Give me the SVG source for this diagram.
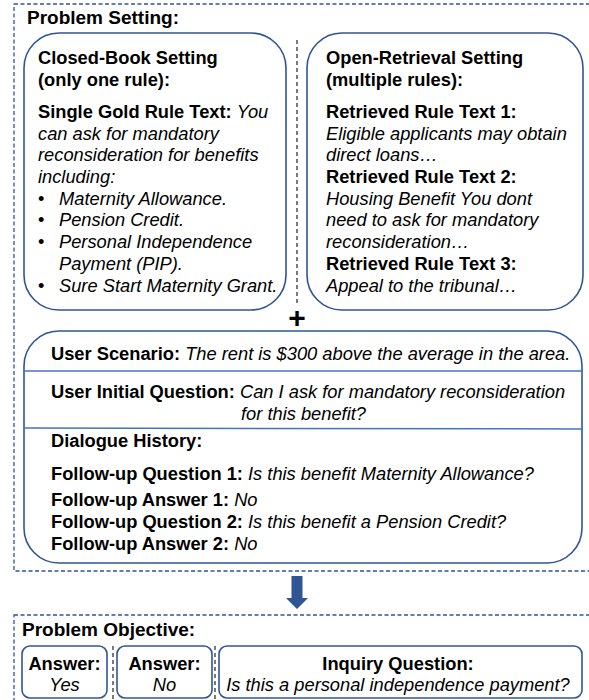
<svg xmlns="http://www.w3.org/2000/svg" width="589" height="700" viewBox="0 0 589 700">
<style>
text{font-family:"Liberation Sans",Arial,sans-serif;font-size:18.3px;fill:#000}
.b{font-weight:bold}
.i{font-style:italic}
.t{font-weight:bold;font-size:19px}
.outer{fill:none;stroke:#2F5597;stroke-width:1.3;stroke-dasharray:4 2.5}
.box{fill:#fff;stroke:#2F5597;stroke-width:1.6}
.div{stroke:#4472C4;stroke-width:1.5}
.sep{stroke:#222;stroke-width:1.2;stroke-dasharray:4 3}
.mid{text-anchor:middle}
</style>
<rect id="setting-frame" class="outer" x="14" y="4" width="600" height="567"/>
<text class="t" x="27" y="24">Problem Setting:</text>

<g id="closed-book">
<rect class="box" x="24" y="33" width="262" height="277" rx="35"/>
<text class="b" x="38" y="64">Closed-Book Setting</text>
<text class="b" x="38" y="86">(only one rule):</text>
<text x="38" y="118"><tspan class="b">Single Gold Rule Text: </tspan><tspan class="i">You</tspan></text>
<text class="i" x="38" y="140">can ask for mandatory</text>
<text class="i" x="38" y="161">reconsideration for benefits</text>
<text class="i" x="38" y="183">including:</text>
<text x="38" y="205">•</text><text class="i" x="59" y="205">Maternity Allowance.</text>
<text x="38" y="226">•</text><text class="i" x="59" y="226">Pension Credit.</text>
<text x="38" y="248">•</text><text class="i" x="59" y="248">Personal Independence</text>
<text class="i" x="59" y="270">Payment (PIP).</text>
<text x="38" y="292">•</text><text class="i" x="59" y="292">Sure Start Maternity Grant.</text>
</g>

<g id="open-retrieval">
<rect class="box" x="307" y="33" width="276" height="277" rx="35"/>
<text class="b" x="326" y="64">Open-Retrieval Setting</text>
<text class="b" x="326" y="86">(multiple rules):</text>
<text class="b" x="326" y="118">Retrieved Rule Text 1:</text>
<text class="i" x="326" y="140">Eligible applicants may obtain</text>
<text class="i" x="326" y="161">direct loans…</text>
<text class="b" x="326" y="183">Retrieved Rule Text 2:</text>
<text class="i" x="326" y="205">Housing Benefit You dont</text>
<text class="i" x="326" y="226">need to ask for mandatory</text>
<text class="i" x="326" y="248">reconsideration…</text>
<text class="b" x="326" y="270">Retrieved Rule Text 3:</text>
<text class="i" x="326" y="292">Appeal to the tribunal…</text>
</g>

<g id="user-input">
<rect class="box" x="24" y="331" width="558" height="232" rx="35"/>
<line class="div" x1="24" y1="371" x2="582" y2="371"/>
<line class="div" x1="24" y1="428" x2="582" y2="429"/>
<text x="51" y="360"><tspan class="b">User Scenario: </tspan><tspan class="i">The rent is $300 above the average in the area.</tspan></text>
<text x="51" y="398"><tspan class="b">User Initial Question: </tspan><tspan class="i">Can I ask for mandatory reconsideration</tspan></text>
<text class="i" x="241" y="420">for this benefit?</text>
<text class="b" x="51" y="447">Dialogue History:</text>
<text x="51" y="480"><tspan class="b">Follow-up Question 1: </tspan><tspan class="i">Is this benefit Maternity Allowance?</tspan></text>
<text x="51" y="506"><tspan class="b">Follow-up Answer 1: </tspan><tspan class="i">No</tspan></text>
<text x="51" y="528"><tspan class="b">Follow-up Question 2: </tspan><tspan class="i">Is this benefit a Pension Credit?</tspan></text>
<text x="51" y="550"><tspan class="b">Follow-up Answer 2: </tspan><tspan class="i">No</tspan></text>
</g>

<g id="connectors">
<line class="sep" x1="297" y1="40" x2="297" y2="304"/>
<text class="b mid" x="297" y="328" style="font-size:30px">+</text>
<polygon points="291.5,576 302.5,576 302.5,598 308,598 297,609 286,598 291.5,598" fill="#2F5597"/>
<line class="sep" x1="113" y1="646" x2="113" y2="700"/>
<line class="sep" x1="215" y1="646" x2="215" y2="700"/>
</g>

<rect id="objective-frame" class="outer" x="14" y="615" width="600" height="100"/>
<text class="t" x="22" y="636">Problem Objective:</text>

<g id="answer-yes">
<rect class="box" x="22" y="646" width="85" height="52" rx="8"/>
<text class="b mid" x="64.5" y="670">Answer:</text>
<text class="i mid" x="64.5" y="691">Yes</text>
</g>
<g id="answer-no">
<rect class="box" x="117" y="646" width="95" height="52" rx="8"/>
<text class="b mid" x="164.5" y="670">Answer:</text>
<text class="i mid" x="164.5" y="691">No</text>
</g>
<g id="inquiry">
<rect class="box" x="219" y="646" width="363" height="52" rx="8"/>
<text class="b mid" x="398" y="670">Inquiry Question:</text>
<text class="i mid" x="398" y="691">Is this a personal independence payment?</text>
</g>
</svg>
